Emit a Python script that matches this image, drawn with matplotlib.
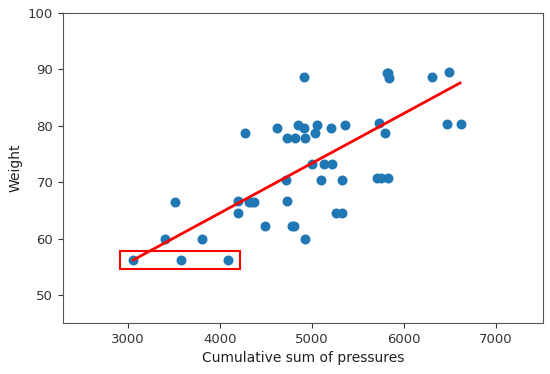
import numpy as np
import matplotlib
matplotlib.use('Agg')
import matplotlib.pyplot as plt
from matplotlib.patches import Rectangle

# cumulative pressure sum vs weight
pressure = [3054, 3569, 4085, 3399, 3805, 3504, 4190, 4190, 4310, 4340,
            4370, 4491, 4723, 4712, 4781, 4806, 4926, 4908, 4614, 4270,
            4723, 4817, 4926, 4843, 4908, 5049, 5031, 5205, 5358, 4999,
            5129, 5213, 5096, 5329, 5260, 5329, 5702, 5746, 5829, 5731,
            5797, 5810, 5830, 5840, 6308, 6493, 6464, 6620]
weight = [56.2, 56.2, 56.2, 60.0, 60.0, 66.4, 66.7, 64.6, 66.4, 66.4,
          66.4, 62.2, 66.6, 70.4, 62.2, 62.2, 60.0, 88.6, 79.6, 78.8,
          77.9, 77.9, 77.9, 80.1, 79.7, 80.1, 78.8, 79.6, 80.1, 73.3,
          73.3, 73.3, 70.4, 70.4, 64.6, 64.6, 70.7, 70.7, 70.7, 80.5,
          78.8, 89.4, 89.3, 88.5, 88.6, 89.6, 80.4, 80.4]

# regression line ends
fit_x = [3054, 6609]
fit_y = [56.2, 87.6]

# highlighted box (x0, y0, width, height)
box = (2913, 54.6, 1302, 3.2)

fig = plt.figure(figsize=(5.5, 3.74), dpi=100)
ax = fig.add_axes([0.1145, 0.136, 0.8725, 0.829])

ax.scatter(pressure, weight, s=38, color='#1f77b4', zorder=2)
ax.plot(fit_x, fit_y, color='red', linewidth=2, zorder=3)
ax.add_patch(Rectangle((box[0], box[1]), box[2], box[3], fill=False,
                       edgecolor='red', linewidth=1.5, zorder=4))

ax.set_xlim(2290, 7510)
ax.set_ylim(45, 100)
ax.set_xticks([3000, 4000, 5000, 6000, 7000])
ax.set_yticks([50, 60, 70, 80, 90, 100])
ax.tick_params(labelsize=9.5, colors='#333333')
for s in ax.spines.values():
    s.set_color('#555555')

ax.set_xlabel('Cumulative sum of pressures', fontsize=10, color='#222222')
ax.set_ylabel('Weight', fontsize=10, color='#222222')

fig.savefig('out.png', dpi=100)
